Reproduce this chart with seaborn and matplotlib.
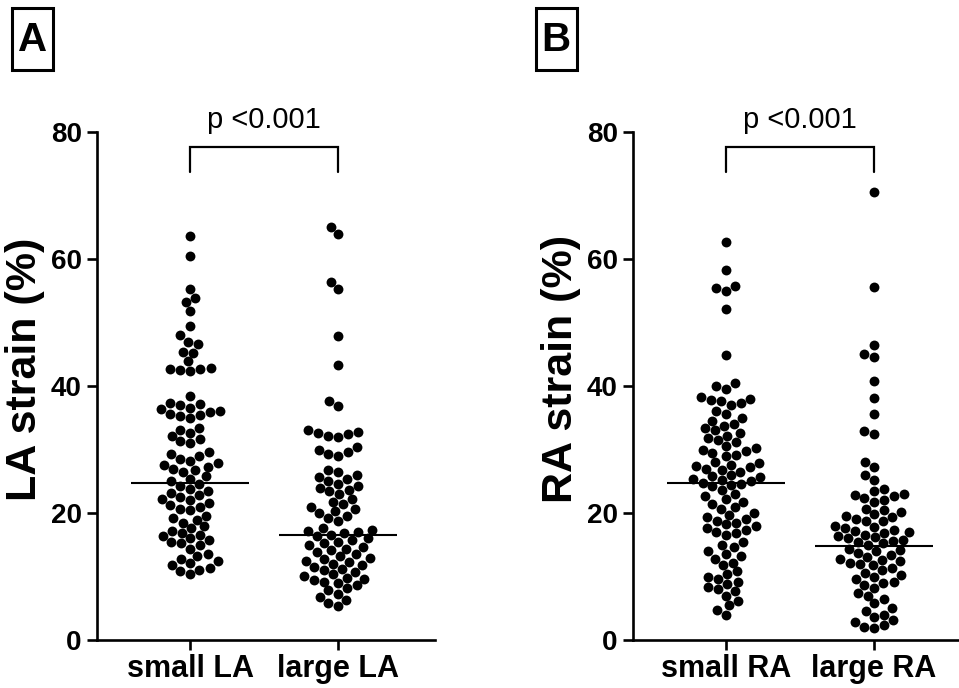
import numpy as np
import pandas as pd
import seaborn as sns
import matplotlib.pyplot as plt
from matplotlib.patches import Rectangle

# ---------------- data ----------------
cats_A = ["small LA", "large LA"]
cats_B = ["small RA", "large RA"]

small_LA = [63.7, 60.4, 55.3, 53.8, 53.2, 51.8, 49.5, 48.0, 47.0, 46.6, 45.4, 45.2,
            43.9, 42.8, 42.6, 42.5, 42.7, 42.4, 38.4, 37.4, 37.2, 37.0,
            36.6, 36.3, 36.1, 35.9, 35.6, 35.4, 35.2, 35.0,
            33.4, 33.0, 32.6, 32.2, 31.6, 31.3, 31.0,
            29.6, 29.3, 28.9, 28.5, 28.2, 27.8, 27.6, 27.3, 27.0, 26.8, 26.5,
            25.8, 25.4, 25.0, 24.6, 24.3,
            23.8, 23.5, 23.1, 22.8, 22.5, 22.2, 22.0, 21.6, 21.3, 21.0, 20.7, 20.4,
            19.6, 19.2, 18.9, 18.5,
            17.9, 17.6, 17.2, 16.9, 16.5, 16.3, 16.0, 15.7, 15.4, 15.2, 14.9, 14.4,
            13.6, 13.2, 12.8, 12.4, 12.1, 11.8, 11.4, 11.1, 10.8, 10.4]

large_LA = [65.0, 63.9, 56.4, 55.3, 47.9, 43.3, 37.6, 36.8,
            33.0, 32.8, 32.6, 32.4, 32.2, 32.0,
            30.4, 30.0, 29.6, 29.3, 29.0,
            26.8, 26.4, 26.0, 25.6, 25.3, 25.0, 24.6, 24.3, 24.0, 23.7, 23.4, 23.0,
            22.2, 21.8, 21.4, 21.0, 20.6, 20.3, 20.0, 19.6, 19.2, 18.8,
            17.6, 17.4, 17.2, 17.0, 16.8, 16.6,
            16.3, 16.0, 15.7, 15.5, 15.2, 14.9, 14.6, 14.4, 14.1, 13.8, 13.5, 13.2,
            12.9, 12.7, 12.5,
            12.3, 12.0, 11.8, 11.5, 11.2, 11.0, 10.7, 10.4, 10.1, 9.8, 9.6, 9.4, 9.2, 9.0,
            8.6, 8.2, 7.8, 7.3, 6.8, 6.3, 5.8, 5.3]

small_RA = [62.6, 58.2, 55.8, 55.5, 55.0, 52.2, 44.9, 40.5, 40.0, 39.6,
            38.2, 38.0, 37.8, 37.6, 37.3, 37.0,
            36.0, 35.6, 35.0, 34.5, 34.0, 33.7,
            33.4, 33.0, 32.6, 32.2, 31.8, 31.5, 31.2,
            30.6, 30.3, 30.0, 29.8, 29.5, 29.2, 29.0,
            28.0, 27.8, 27.6, 27.4, 27.2, 27.0, 26.8, 26.5,
            26.0, 25.8, 25.6, 25.4, 25.2, 25.0, 24.8, 24.6, 24.4, 24.2,
            23.6, 23.0, 22.6, 22.2, 21.8, 21.4, 21.0, 20.7,
            20.0, 19.7, 19.4, 19.1, 18.8, 18.5, 18.2, 17.9, 17.6, 17.3, 17.0, 16.8, 16.5,
            15.4, 15.0, 14.6, 14.0, 13.6, 13.2, 12.8, 12.2, 11.8,
            10.8, 10.4, 10.0, 9.6, 9.2, 8.8, 8.4, 8.0, 7.7,
            7.0, 6.2, 5.5, 4.8, 4.0]

large_RA = [70.5, 55.6, 46.4, 45.0, 44.6, 40.8, 38.1, 35.6,
            32.9, 32.5, 28.0, 27.2, 26.0, 25.2,
            23.8, 23.4, 23.0, 22.8, 22.6, 22.3, 22.0, 21.8,
            20.7, 20.4, 20.1, 19.8, 19.6, 19.3, 19.0, 18.8, 18.7,
            18.0, 17.8, 17.6, 17.4, 17.2, 17.0, 16.8, 16.6, 16.4, 16.2, 16.0, 15.8,
            15.6, 15.4, 15.2, 15.0,
            14.4, 14.2, 14.0, 13.7, 13.4, 13.1, 12.8, 12.6, 12.4, 12.2, 12.0, 11.8,
            11.3, 11.0, 10.6, 10.3, 10.0, 9.6, 9.2, 8.9, 8.6, 8.2,
            7.4, 7.0, 6.4, 5.8, 5.0,
            4.5, 4.0, 3.6, 3.2, 2.8, 2.4, 2.1, 1.9]

center_A = [24.7, 16.5]
center_B = [24.8, 14.8]

y_ticks = [0, 20, 40, 60, 80]
p_text = "p <0.001"
ylabel_A = "LA strain (%)"
ylabel_B = "RA strain (%)"

# ---------------- style ----------------
sns.set_theme(style="ticks")
plt.rcParams["font.family"] = ["Liberation Sans", "DejaVu Sans"]
for k in ["text.color", "axes.labelcolor", "xtick.color", "ytick.color",
          "axes.edgecolor"]:
    plt.rcParams[k] = "black"

W, H = 959, 688
fig = plt.figure(figsize=(W / 100, H / 100), dpi=100)

LW = 1.9


def panel(left_px, cats, a, b, centers, ylabel, letter, letter_x):
    ax = fig.add_axes([left_px / W, 48 / H, 338 / W, 508 / H])
    df = pd.DataFrame({"group": [cats[0]] * len(a) + [cats[1]] * len(b),
                       "value": list(a) + list(b)})
    sns.swarmplot(data=df, x="group", y="value", order=cats, color="black",
                  size=7.1, linewidth=0, ax=ax, clip_on=False)
    for i, c in enumerate(centers):
        ax.hlines(c, i - 0.4, i + 0.4, color="black", lw=1.5, zorder=3)
    ax.set_xlim(-0.63, 1.655)
    ax.set_ylim(0, 80)
    ax.set_yticks(y_ticks)
    ax.set_xlabel("")
    ax.set_ylabel("")
    for s in ["top", "right"]:
        ax.spines[s].set_visible(False)
    for s in ["left", "bottom"]:
        ax.spines[s].set_linewidth(LW)
        ax.spines[s].set_color("black")
    ax.tick_params(axis="both", length=7, width=LW, color="black",
                   labelcolor="black")
    ax.tick_params(axis="y", labelsize=20, pad=4)
    ax.tick_params(axis="x", labelsize=22, pad=3)
    for t in ax.get_yticklabels() + ax.get_xticklabels():
        t.set_fontweight("bold")
    # bracket
    ax.plot([0, 0, 1, 1], [73.7, 77.6, 77.6, 73.7], color="black", lw=1.6,
            clip_on=False, solid_joinstyle="miter")
    ax.text(0.5, 81.9, p_text, ha="center", va="center", fontsize=21,
            color="black")
    # y label
    fig.text((left_px - 72) / W, 1 - 369 / H, ylabel, rotation=90, ha="center",
             va="center", fontsize=31, fontweight="bold", color="black")
    # panel letter
    bx0, bx1, by0, by1 = letter_x - 20.5, letter_x + 20.5, 8, 70
    fig.patches.append(Rectangle((bx0 / W, 1 - by1 / H), (bx1 - bx0) / W,
                                 (by1 - by0) / H, transform=fig.transFigure,
                                 fill=False, lw=2.2, edgecolor="black"))
    fig.text(letter_x / W, 1 - 40 / H, letter, ha="center", va="center",
             fontsize=29, fontweight="bold", color="black")
    return ax


panel(97, cats_A, small_LA, large_LA, center_A, ylabel_A, "A", 32.5)
panel(633, cats_B, small_RA, large_RA, center_B, ylabel_B, "B", 556)

fig.savefig("out.png", dpi=100)
